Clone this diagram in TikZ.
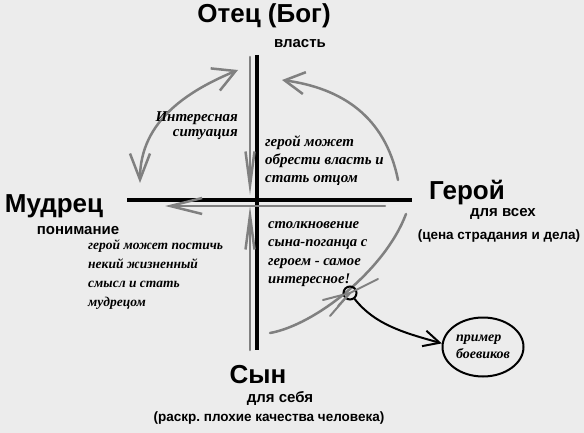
\documentclass[tikz,border=0pt]{standalone}
\usepackage{fontspec}
\setmainfont{Liberation Sans}
\newfontfamily\handfont{Liberation Serif}
\usetikzlibrary{arrows.meta, shapes.geometric}
\definecolor{paperGray}{RGB}{236,236,236}
\definecolor{penGray}{RGB}{128,128,128}
\definecolor{inkBlack}{RGB}{0,0,0}
\frenchspacing
\tikzset{
    polename/.style={
        inner sep=0pt,
        font=\fontsize{26}{28}\selectfont\bfseries
    },
    polenote/.style={
        inner sep=0pt,
        font=\fontsize{15}{17}\selectfont\bfseries
    },
    polesmall/.style={
        inner sep=0pt,
        font=\fontsize{13.5}{15}\selectfont\bfseries
    },
    handnote/.style={
        inner sep=0pt,
        align=left,
        font=\fontsize{14}{18}\selectfont\handfont\bfseries\itshape
    },
    axisline/.style={draw=inkBlack, line width=4pt},
    penline/.style={draw=penGray, line width=2.5pt, line cap=round},
    penarrow/.style={penline, -{Straight Barb[length=20pt, width=22pt]}},
    axisarrow/.style={penline, -{Straight Barb[length=34pt, width=9pt]}},
    inkline/.style={draw=inkBlack, line width=2pt}
}

\begin{document}
\begin{tikzpicture}[x=1pt, y=-1pt]
    \fill[paperGray] (0,0) rectangle (584,433);
    \useasboundingbox (0,0) rectangle (584,433);
    % poles
    \node[polename] (father) at (264,16) {Отец (Бог)};
    \node[polenote] (fatherNote) at (300,44) {власть};
    \node[polename] (wise) at (54,206) {Мудрец};
    \node[polenote] (wiseNote) at (78,231) {понимание};
    \node[polename] (hero) at (467,193) {Герой};
    \node[polenote] (heroNote) at (503,214) {для всех};
    \node[polesmall] (heroCost) at (499,236) {(цена страдания и дела)};
    \node[polename] (son) at (258,375) {Сын};
    \node[polenote] (sonNote) at (280,398) {для себя};
    \node[polesmall] (sonCost) at (269,418) {(раскр. плохие качества человека)};
    % axes
    \coordinate (fatherEnd) at (257,55);
    \coordinate (sonEnd) at (257,350);
    \coordinate (wiseEnd) at (127,200);
    \coordinate (heroEnd) at (412,200);
    \draw[axisline] (fatherEnd) -- (sonEnd);
    \draw[axisline] (wiseEnd) -- (heroEnd);
    % gray strokes
    \coordinate (grayTop) at (250,57);
    \coordinate (grayMidUp) at (250,195);
    \coordinate (grayMidDown) at (250,206);
    \coordinate (grayBottom) at (250,350);
    \coordinate (grayRight) at (385,206);
    \coordinate (grayLeft) at (165,206);
    \draw[axisarrow] (grayTop) -- (grayMidUp);
    \draw[axisarrow] (grayBottom) -- (grayMidDown);
    \draw[penline, -{Straight Barb[length=32pt, width=16pt]}] (grayRight) -- (grayLeft);
    \coordinate (heroArc) at (398,180);
    \coordinate (fatherArc) at (282,80);
    \coordinate (fatherArcLeft) at (238,70);
    \coordinate (wiseArc) at (140,183);
    \coordinate (sonArc) at (270,333);
    \coordinate (heroArcLow) at (406,214);
    \draw[penarrow] (heroArc) .. controls (385,115) and (340,88) .. (fatherArc);
    \draw[penline, {Straight Barb[length=26pt, width=20pt]}-{Straight Barb[length=22pt, width=24pt]}]
        (wiseArc) .. controls (140,120) and (190,90) .. (fatherArcLeft);
    \draw[penline] (sonArc) .. controls (315,325) and (385,270) .. (heroArcLow);
    \node[circle, draw=inkBlack, line width=2pt, minimum size=13pt, inner sep=0pt] (clash) at (350,293) {};
    \draw[penline, line width=2pt] (clash.center) -- ++(-27,7);
    \draw[penline, line width=2pt] (clash.center) -- ++(-20,23);
    \draw[penline, line width=2pt] (clash.center) -- ++(28,-14);
    \draw[penline, line width=2pt] (clash.center) -- ++(-12,13);
    % notes
    \node[handnote, align=right, anchor=east, font=\fontsize{15}{15}\selectfont\handfont\bfseries\itshape] (interest) at (238,126) {Интересная\\ситуация};
    \node[handnote, anchor=west, font=\fontsize{15}{18}\selectfont\handfont\bfseries\itshape] (heroPower) at (265,161) {герой может\\обрести власть и\\стать отцом};
    \node[handnote, anchor=west, font=\fontsize{13.5}{19}\selectfont\handfont\bfseries\itshape] (heroSense) at (88,275) {герой может постичь\\некий жизненный\\смысл и стать\\мудрецом};
    \node[handnote, anchor=west, font=\fontsize{14.7}{18.5}\selectfont\handfont\bfseries\itshape] (clashNote) at (268,254) {столкновение\\сына-поганца с\\героем - самое\\интересное!};
    \node[ellipse, draw=inkBlack, line width=2pt, minimum width=81pt, minimum height=59pt, inner sep=0pt,
        align=left, font=\fontsize{14}{17}\selectfont\handfont\bfseries\itshape] (examples) at (483,347) {пример\\боевиков};
    \draw[inkline, -{Straight Barb[length=16pt, width=16pt]}] (clash) .. controls (375,325) and (405,333) .. (examples.175);
\end{tikzpicture}
\end{document}
